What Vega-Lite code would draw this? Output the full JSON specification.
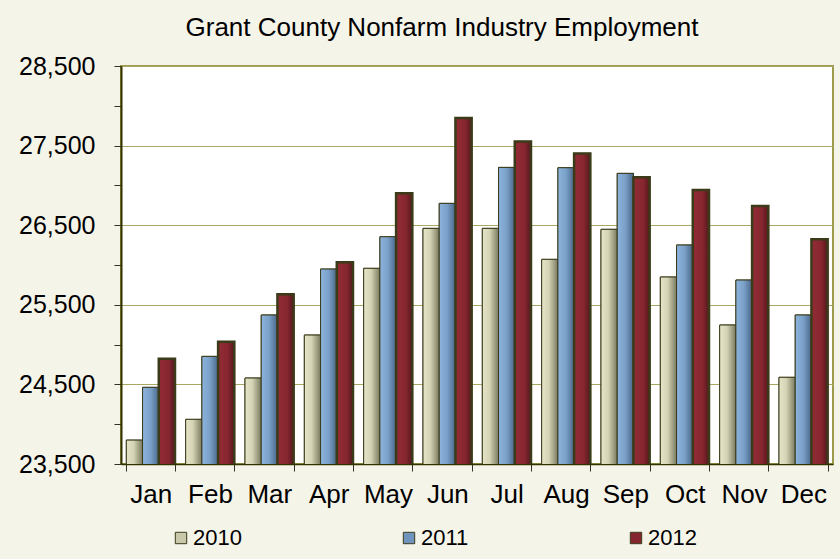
{
  "$schema": "https://vega.github.io/schema/vega-lite/v6.json",
  "autosize": {"type": "none"},
  "width": 712,
  "height": 398,
  "padding": {"left": 121, "top": 66, "right": 7, "bottom": 95},
  "background": "#f5f4e9",
  "title": {"text": "Grant County Nonfarm Industry Employment", "fontSize": 26, "font": "Liberation Sans", "fontWeight": "normal", "color": "#000000", "offset": 13, "dx": -35},
  "config": {
    "view": {"stroke": "#9c9c4c", "strokeWidth": 2, "fill": "#ffffff"},
    "font": "Liberation Sans"
  },
  "data": {"values": [
    {"month": "Jan", "year": "2010", "employment": 23800},
    {"month": "Jan", "year": "2011", "employment": 24463},
    {"month": "Jan", "year": "2012", "employment": 24823},
    {"month": "Feb", "year": "2010", "employment": 24061},
    {"month": "Feb", "year": "2011", "employment": 24852},
    {"month": "Feb", "year": "2012", "employment": 25036},
    {"month": "Mar", "year": "2010", "employment": 24580},
    {"month": "Mar", "year": "2011", "employment": 25372},
    {"month": "Mar", "year": "2012", "employment": 25631},
    {"month": "Apr", "year": "2010", "employment": 25120},
    {"month": "Apr", "year": "2011", "employment": 25949},
    {"month": "Apr", "year": "2012", "employment": 26033},
    {"month": "May", "year": "2010", "employment": 25958},
    {"month": "May", "year": "2011", "employment": 26355},
    {"month": "May", "year": "2012", "employment": 26900},
    {"month": "Jun", "year": "2010", "employment": 26460},
    {"month": "Jun", "year": "2011", "employment": 26774},
    {"month": "Jun", "year": "2012", "employment": 27846},
    {"month": "Jul", "year": "2010", "employment": 26460},
    {"month": "Jul", "year": "2011", "employment": 27226},
    {"month": "Jul", "year": "2012", "employment": 27553},
    {"month": "Aug", "year": "2010", "employment": 26071},
    {"month": "Aug", "year": "2011", "employment": 27222},
    {"month": "Aug", "year": "2012", "employment": 27402},
    {"month": "Sep", "year": "2010", "employment": 26448},
    {"month": "Sep", "year": "2011", "employment": 27151},
    {"month": "Sep", "year": "2012", "employment": 27101},
    {"month": "Oct", "year": "2010", "employment": 25849},
    {"month": "Oct", "year": "2011", "employment": 26251},
    {"month": "Oct", "year": "2012", "employment": 26941},
    {"month": "Nov", "year": "2010", "employment": 25246},
    {"month": "Nov", "year": "2011", "employment": 25811},
    {"month": "Nov", "year": "2012", "employment": 26740},
    {"month": "Dec", "year": "2010", "employment": 24589},
    {"month": "Dec", "year": "2011", "employment": 25372},
    {"month": "Dec", "year": "2012", "employment": 26322}
  ]},
  "encoding": {
    "x": {
      "field": "month", "type": "nominal",
      "sort": ["Jan","Feb","Mar","Apr","May","Jun","Jul","Aug","Sep","Oct","Nov","Dec"],
      "scale": {"paddingInner": 0.18, "paddingOuter": 0.09},
      "axis": {"title": null, "labelAngle": 0, "labelFontSize": 26, "labelColor": "#000000", "labelPadding": 10, "tickBand": "extent", "tickSize": 7, "tickColor": "#333322", "domainColor": "#333300", "domainWidth": 1.5, "grid": false}
    },
    "xOffset": {"field": "year", "type": "nominal", "sort": ["2010","2011","2012"], "scale": {"domain": ["2010","2011","2012"], "paddingInner": 0}},
    "y": {
      "field": "employment", "type": "quantitative",
      "scale": {"domain": [23500, 28500], "nice": false, "zero": false},
      "axis": {
        "title": null, "format": ",.0f",
        "values": [23500, 24000, 24500, 25000, 25500, 26000, 26500, 27000, 27500, 28000, 28500],
        "labelExpr": "(datum.value - 23500) % 1000 == 0 ? datum.label : ''",
        "labelFontSize": 25, "labelColor": "#000000", "labelPadding": 19,
        "tickSize": 7, "tickColor": "#333322",
        "domainColor": "#333300", "domainWidth": 2,
        "grid": true, "gridColor": "#a9a862",
        "gridOpacity": {"condition": {"test": "(datum.value - 23500) % 1000 == 0", "value": 1}, "value": 0}
      }
    }
  },
  "layer": [
    {
      "mark": {"type": "bar", "stroke": "#3b3b1a", "clip": true},
      "encoding": {
        "color": {
          "field": "year", "type": "nominal",
          "scale": {"domain": ["2010", "2011", "2012"], "range": ["#c9c8aa", "#6f95bf", "#85262f"]},
          "legend": {
            "title": null, "orient": "none", "direction": "horizontal", "legendX": 49, "legendY": 461,
            "padding": 0, "symbolType": "square", "symbolSize": 130, "symbolStrokeColor": "#3b3b1a", "symbolStrokeWidth": 1,
            "labelFontSize": 22, "labelColor": "#000000", "labelOffset": 1, "columnPadding": 156
          }
        }
      }
    },
    {
      "transform": [{"filter": "datum.year == '2010'"}],
      "mark": {"type": "bar", "stroke": "#3b3b1a", "strokeWidth": 1, "clip": true,
        "color": {"gradient": "linear", "x1": 0, "y1": 0, "x2": 1, "y2": 0, "stops": [{"offset": 0, "color": "#e6e5c9"}, {"offset": 0.45, "color": "#d4d3b4"}, {"offset": 1, "color": "#7a7a60"}]}}
    },
    {
      "transform": [{"filter": "datum.year == '2011'"}],
      "mark": {"type": "bar", "stroke": "#3b3b1a", "strokeWidth": 1, "clip": true,
        "color": {"gradient": "linear", "x1": 0, "y1": 0, "x2": 1, "y2": 0, "stops": [{"offset": 0, "color": "#8db4dd"}, {"offset": 0.5, "color": "#7aa0c8"}, {"offset": 1, "color": "#4a6688"}]}}
    },
    {
      "transform": [{"filter": "datum.year == '2012'"}],
      "mark": {"type": "bar", "stroke": "#3b3b1a", "strokeWidth": 2.5, "clip": true,
        "color": {"gradient": "linear", "x1": 0, "y1": 0, "x2": 1, "y2": 0, "stops": [{"offset": 0, "color": "#932c35"}, {"offset": 0.6, "color": "#86262f"}, {"offset": 1, "color": "#55181d"}]}}
    }
  ]
}
